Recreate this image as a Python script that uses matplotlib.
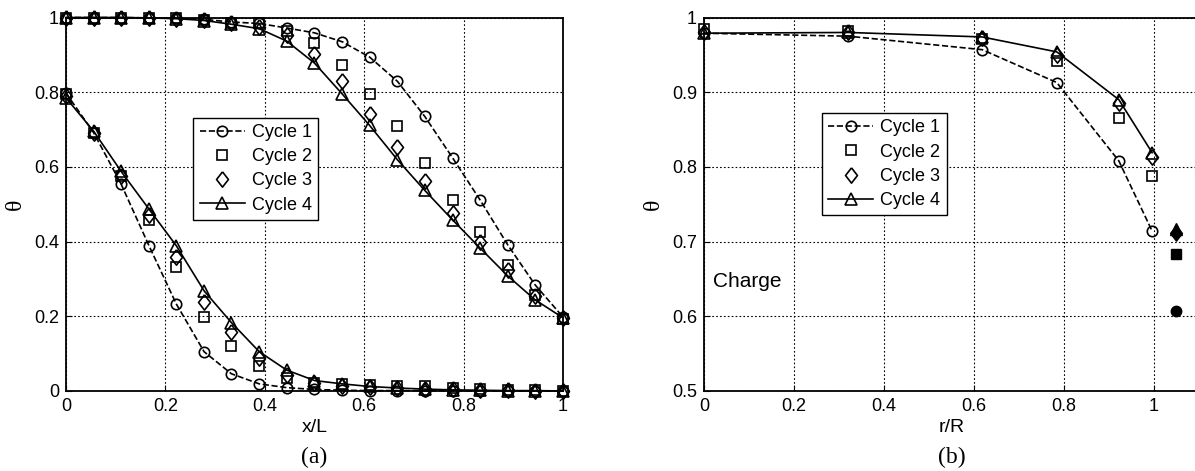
import matplotlib
matplotlib.use("Agg")
import matplotlib.pyplot as plt

plt.rcParams['font.family'] = ['Liberation Sans', 'DejaVu Sans']

# (a) axial profiles, x/L
x_a = [0.0, 0.056, 0.111, 0.167, 0.222, 0.278, 0.333, 0.389, 0.444, 0.5,
       0.556, 0.611, 0.667, 0.722, 0.778, 0.833, 0.889, 0.944, 1.0]

c1_hi = [1.0, 1.0, 1.0, 0.999, 0.998, 0.995, 0.988, 0.984, 0.972, 0.959,
         0.935, 0.894, 0.829, 0.735, 0.624, 0.512, 0.391, 0.284, 0.198]
c2_hi = [1.0, 1.0, 1.0, 0.999, 0.998, 0.994, 0.986, 0.984, 0.963, 0.932,
         0.872, 0.795, 0.709, 0.610, 0.512, 0.427, 0.338, 0.257, 0.192]
c3_hi = [1.0, 1.0, 1.0, 0.999, 0.997, 0.993, 0.984, 0.975, 0.954, 0.903,
         0.829, 0.742, 0.652, 0.561, 0.476, 0.400, 0.324, 0.253, 0.195]
c4_hi = [1.0, 1.0, 1.0, 0.999, 0.997, 0.992, 0.982, 0.970, 0.937, 0.878,
         0.795, 0.711, 0.619, 0.537, 0.458, 0.383, 0.308, 0.244, 0.196]

c1_lo = [0.798, 0.691, 0.554, 0.389, 0.233, 0.105, 0.046, 0.019, 0.009, 0.004,
         0.002, 0.001, 0.001, 0.001, 0.0, 0.0, 0.0, 0.0, 0.0]
c2_lo = [0.795, 0.690, 0.576, 0.458, 0.331, 0.199, 0.121, 0.067, 0.034, 0.022,
         0.019, 0.017, 0.014, 0.012, 0.008, 0.005, 0.003, 0.002, 0.0]
c3_lo = [0.790, 0.690, 0.575, 0.472, 0.360, 0.239, 0.157, 0.089, 0.043, 0.022,
         0.014, 0.010, 0.008, 0.006, 0.004, 0.003, 0.002, 0.001, 0.0]
c4_lo = [0.785, 0.695, 0.588, 0.487, 0.389, 0.268, 0.183, 0.105, 0.056, 0.028,
         0.019, 0.012, 0.008, 0.005, 0.003, 0.002, 0.001, 0.001, 0.0]

# (b) radial profiles, r/R
r_b = [0.0, 0.321, 0.618, 0.784, 0.922, 0.996]
c1_b = [0.979, 0.975, 0.957, 0.913, 0.808, 0.714]
c2_b = [0.985, 0.982, 0.971, 0.942, 0.866, 0.788]
c3_b = [0.980, 0.980, 0.972, 0.950, 0.885, 0.813]
c4_b = [0.979, 0.980, 0.974, 0.954, 0.890, 0.819]

# filled points just outside the bed
r_out = 1.05
out_vals = [0.607, 0.684, 0.711, 0.717]

labels = ["Cycle 1", "Cycle 2", "Cycle 3", "Cycle 4"]
# matlab-like diamond (a bit wider than mpl's 'd')
diamond = [(0, 1), (0.78, 0), (0, -1), (-0.78, 0), (0, 1)]
markers = ["o", "s", diamond, "^"]
sizes = [7.5, 7.5, 11, 8]
styles = ["--", "None", "None", "-"]

fig = plt.figure(figsize=(11.95, 4.71), dpi=100)
ax1 = fig.add_axes([0.0552, 0.1699, 0.4159, 0.7929])
ax2 = fig.add_axes([0.5891, 0.1699, 0.4142, 0.7929])

def style_axes(ax):
    ax.grid(True, color="black", linestyle=(0, (1.5, 2)), linewidth=0.8)
    ax.set_axisbelow(True)
    for s in ax.spines.values():
        s.set_linewidth(1.3)
    ax.tick_params(direction="in", length=4, labelsize=13, pad=5)

leg_kw = dict(borderaxespad=0, fontsize=13, fancybox=False, edgecolor="black",
              framealpha=1, handlelength=2.5, borderpad=0.35, labelspacing=0.4,
              handletextpad=0.4)

# plot (a)
for grp in [(c1_hi, c2_hi, c3_hi, c4_hi), (c1_lo, c2_lo, c3_lo, c4_lo)]:
    for i, y in enumerate(grp):
        ax1.plot(x_a, y, linestyle=styles[i], marker=markers[i], color="black",
                 mfc="none", mec="black", ms=sizes[i], mew=1.2, lw=1.2, clip_on=False,
                 label=labels[i] if grp[0] is c1_hi else None)
ax1.set_xlim(0, 1)
ax1.set_ylim(0, 1)
ax1.set_xticks([0, 0.2, 0.4, 0.6, 0.8, 1])
ax1.set_xticklabels(["0", "0.2", "0.4", "0.6", "0.8", "1"])
ax1.set_yticks([0, 0.2, 0.4, 0.6, 0.8, 1])
ax1.set_yticklabels(["0", "0.2", "0.4", "0.6", "0.8", "1"])
style_axes(ax1)
ax1.set_xlabel("x/L", fontsize=14, labelpad=3)
ax1.set_ylabel("θ", fontsize=17, family="Liberation Serif", labelpad=6)
ax1.legend(loc="upper left", bbox_to_anchor=(0.256, 0.732), **leg_kw)
ax1.text(0.5, -0.177, "(a)", transform=ax1.transAxes, ha="center", va="center",
         fontsize=17, family="Liberation Serif")

# plot (b)
for i, y in enumerate([c1_b, c2_b, c3_b, c4_b]):
    ax2.plot(r_b, y, linestyle=styles[i], marker=markers[i], color="black",
             mfc="none", mec="black", ms=sizes[i], mew=1.2, lw=1.2, clip_on=False,
             label=labels[i])
# filled points: diamond drawn last so it sits on top of the triangle
for i in [0, 1, 3, 2]:
    ax2.plot([r_out], [out_vals[i]], linestyle="None", marker=markers[i],
             color="black", ms=sizes[i], clip_on=False)
ax2.set_xlim(0, 1.1)
ax2.set_ylim(0.5, 1)
ax2.set_xticks([0, 0.2, 0.4, 0.6, 0.8, 1])
ax2.set_xticklabels(["0", "0.2", "0.4", "0.6", "0.8", "1"])
ax2.set_yticks([0.5, 0.6, 0.7, 0.8, 0.9, 1])
ax2.set_yticklabels(["0.5", "0.6", "0.7", "0.8", "0.9", "1"])
style_axes(ax2)
ax2.set_xlabel("r/R", fontsize=14, labelpad=3)
ax2.set_ylabel("θ", fontsize=17, family="Liberation Serif", labelpad=6)
ax2.legend(loc="upper left", bbox_to_anchor=(0.238, 0.744), **leg_kw)
ax2.text(0.02, 0.646, "Charge", fontsize=15, va="center", ha="left")
ax2.text(0.5, -0.177, "(b)", transform=ax2.transAxes, ha="center", va="center",
         fontsize=17, family="Liberation Serif")

fig.savefig("out.png", dpi=100)
